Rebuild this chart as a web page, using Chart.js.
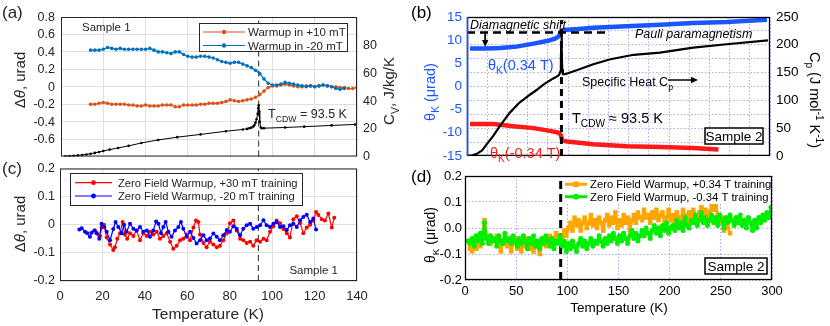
<!DOCTYPE html>
<html>
<head>
<meta charset="utf-8">
<script src="https://cdn.jsdelivr.net/npm/chart.js@4.4.1/dist/chart.umd.min.js"></script>
<style>
  body { margin: 0; background: #fff; }
  #wrap { position: relative; width: 830px; height: 326px; overflow: hidden; }
  .panel { position: absolute; }
</style>
</head>
<body>
<div id="wrap">
  <div class="panel" style="left:0;top:0"><canvas id="chartA" width="420" height="170"></canvas></div>
  <div class="panel" style="left:0;top:156px"><canvas id="chartC" width="420" height="170"></canvas></div>
  <div class="panel" style="left:400px;top:0"><canvas id="chartB" width="430" height="170"></canvas></div>
  <div class="panel" style="left:400px;top:164px"><canvas id="chartD" width="430" height="162"></canvas></div>
</div>
<script>
// ---------- panel (a): Kerr signal of sample 1 + heat capacity ----------
const aT = [14,16,18,20,22,24,26,28,30,32,34,36,38,40,42,44,46,48,50,52,54,56,58,60,62,64,66,68,70,72,
  74,76,78,80,82,84,86,88,90,92,94,96,98,100,102,104,106,108,110,112,114,116,118,120,122,124,126,128,130,132,
  134,136,138,140];
const aOrange = [-0.20,-0.20,-0.19,-0.18,-0.19,-0.20,-0.20,-0.20,-0.20,-0.21,
  -0.21,-0.22,-0.22,-0.21,-0.22,-0.22,-0.22,-0.21,-0.21,-0.21,
  -0.23,-0.23,-0.21,-0.21,-0.21,-0.21,-0.20,-0.20,-0.19,-0.19,
  -0.19,-0.18,-0.17,-0.15,-0.16,-0.17,-0.16,-0.15,-0.14,-0.12,
  -0.09,-0.05,-0.01,0.01,0.01,0.02,0.03,0.02,0.01,0.00,
  0.00,0.01,0.01,0.00,0.01,0.02,0.01,0.00,0.00,-0.01,
  -0.01,-0.02,-0.02,-0.01];
const aBlue = [0.42,0.42,0.42,0.43,0.45,0.44,0.43,0.44,0.43,0.43,
  0.43,0.43,0.43,0.43,0.44,0.42,0.40,0.40,0.39,0.38,
  0.40,0.40,0.37,0.35,0.34,0.34,0.35,0.35,0.34,0.33,
  0.31,0.29,0.28,0.27,0.28,0.28,0.26,0.24,0.22,0.19,
  0.15,0.09,0.04,0.02,0.02,0.03,0.05,0.04,0.03,0.02,
  0.01,0.00,0.01,0.00,0.01,0.02,0.01,0.00,-0.02,-0.03,
  -0.02];
const cvT = [2,4,6,8,10,12,14,16,18,20,23,27,32,38,46,55,66,78,86,88,
  89,90,91,91.5,92,92.5,93,93.3,93.5,93.7,94,94.5,95,96,106,115,128,139];
const cvA = [0.2,0.3,0.5,0.8,1.1,1.5,2.0,2.6,3.3,4.0,5.0,6.2,7.7,9.8,12.0,14.0,16.0,18.3,19.6,20.0,
  20.4,20.9,21.8,22.8,24.5,27,31,35,37,33,25,21,20.5,20.5,21,21.6,22.5,23.2];

// ---------- panel (c): zero field warmup, sample 1 ----------
const cRedT = [16.5,17.3,18.9,19.6,20.7,22.0,23.6,25.1,25.9,27.0,28.3,29.5,30.6,31.7,33.0,34.6,36.1,37.7,39.3,40.9,
  42.4,44.0,45.6,47.1,48.7,50.3,51.9,53.4,55.0,56.6,58.1,59.7,61.3,62.9,64.1,65.2,66.0,67.6,69.1,70.7,
  72.3,73.9,75.4,77.0,78.6,80.1,81.7,83.3,84.9,86.4,88.0,89.6,91.1,92.7,94.3,95.9,97.4,99.0,100.6,102.1,
  103.7,105.3,106.9,108.4,110.0,111.6,113.2,114.7,116.3,117.9,119.4,120.7,121.8,123.4,124.9,126.5,128.1,129.3];
const cRed = [-0.02,-0.03,-0.04,-0.01,0.0,-0.045,-0.07,-0.09,-0.08,-0.05,
  -0.03,0.01,-0.035,-0.05,-0.03,-0.04,-0.02,-0.055,-0.03,-0.04,
  -0.025,-0.035,-0.025,-0.05,-0.04,-0.03,-0.06,-0.085,-0.075,-0.055,
  -0.05,-0.035,-0.055,-0.01,0.015,0.01,-0.035,-0.065,-0.08,-0.06,
  -0.07,-0.08,-0.075,-0.055,-0.03,0.005,0.015,-0.02,-0.05,-0.055,
  -0.065,-0.06,-0.075,-0.055,-0.06,-0.05,-0.055,-0.025,-0.005,0.015,
  0.005,-0.015,-0.03,-0.045,0.02,0.03,0.005,-0.03,-0.01,0.0,
  0.015,0.045,0.035,0.02,0.015,0.04,-0.01,0.025];
const cBlueT = [9.1,10.2,11.8,12.9,14.1,14.9,16.2,17.3,18.5,19.6,20.9,22.0,23.6,25.1,26.2,27.5,29.1,30.2,31.4,33.0,
  34.6,36.1,37.7,39.3,40.9,42.4,44.0,45.3,46.4,47.6,48.7,49.8,51.1,52.6,54.2,55.8,57.0,58.1,59.7,61.3,
  62.9,64.4,66.0,67.6,69.1,70.7,72.3,73.9,75.4,77.0,78.6,80.1,81.7,83.3,84.9,86.4,88.0,89.6,91.1,92.7,
  94.3,95.9,97.4,99.0,100.6,102.1,103.7,105.3,106.9,108.4,110.0,111.6,113.2,114.7,116.3,117.9,119.4,120.7];
const cBlue = [-0.017,-0.012,-0.025,-0.03,-0.043,-0.028,-0.02,-0.03,-0.05,0.004,
  -0.008,-0.025,-0.055,-0.015,0.01,-0.008,-0.03,0.0,-0.025,0.004,
  -0.014,-0.02,-0.008,-0.025,-0.02,-0.043,-0.02,0.012,0.004,-0.03,
  -0.008,0.01,-0.025,-0.043,-0.02,-0.008,0.01,-0.014,-0.043,-0.025,
  -0.047,-0.067,-0.055,-0.037,-0.055,-0.049,-0.031,-0.043,-0.055,-0.037,
  -0.019,-0.025,-0.005,-0.014,-0.037,-0.014,-0.002,0.004,-0.014,-0.008,
  -0.002,0.016,-0.002,-0.008,0.004,0.01,-0.008,-0.005,-0.019,-0.002,
  0.004,-0.008,0.016,0.028,0.036,0.01,0.022,-0.017];

// ---------- panel (b): sample 2 in field + Cp ----------
const bBlueT = [3,10,20,33,49,66,79,87,90,91.5,92.5,93.5,96,110,125,158,191,224,257,297];
const bBlue = [8.2,8.2,8.2,8.3,8.6,9.25,9.8,10.3,10.7,11.0,11.6,12.0,12.2,12.4,12.7,13.0,13.3,13.7,13.9,14.4];
const bRedT = [3,26,46,66,82,89,91.5,93,94,95,99,125,158,191,224,249];
const bRed = [-8.1,-8.1,-8.6,-9.0,-9.6,-9.9,-10.1,-10.6,-11.4,-11.7,-11.9,-12.5,-12.9,-13.1,-13.3,-13.6];
const cpT = [0,5,10,15,20,26,33,42,52,63,70,77,85,90,91.5,92.5,93,93.3,93.6,93.9,94.3,95,97,110,125,142,165,191,224,257,298];
const cpB = [0,1,4,10,22,36,55,77,96,111,120,130,139,144,147,152,170,205,216,190,155,147,147,155,165,174,182,186,195,201,208];
const diamLevel = 11.65, diamEndT = 139, diamArrowT = 18, diamArrowTip = 8.5;

// ---------- panel (d): zero field warmup, sample 2 ----------
const dT = [3,5,7,9,11,13,15,17,19,21,23,25,27,29,31,33,35,37,39,41,43,45,47,49,51,53,55,57,59,61,
  63,65,67,69,71,73,75,77,79,81,83,85,87,89,91,93,95,97,99,101,103,105,107,109,111,113,115,117,119,121,
  123,125,127,129,131,133,135,137,139,141,143,145,147,149,151,153,155,157,159,161,163,165,167,169,171,173,175,177,179,181,
  183,185,187,189,191,193,195,197,199,201,203,205,207,209,211,213,215,217,219,221,223,225,227,229,231,233,235,237,239,241,
  243,245,247,249,251,253,255,257,259,261,263,265,267,269,271,273,275,277,279,281,283,285,287,289,291,293,295,297,299];
const dOrange = [-0.05,-0.08,-0.09,-0.06,-0.08,-0.05,-0.07,-0.02,0.03,-0.04,
  -0.03,-0.06,-0.04,-0.05,-0.03,-0.06,-0.09,-0.05,-0.04,-0.07,
  -0.05,-0.09,-0.06,-0.04,-0.08,-0.06,-0.09,-0.05,-0.07,-0.04,
  -0.08,-0.06,-0.09,-0.05,-0.07,-0.10,-0.06,-0.04,-0.07,-0.05,
  -0.03,-0.06,-0.04,-0.02,-0.04,-0.03,-0.05,-0.01,-0.03,0.0,
  0.02,-0.01,0.04,0.01,0.03,-0.01,0.02,0.04,0.0,0.02,
  0.05,0.01,0.03,0.0,0.04,0.02,-0.01,0.03,0.05,0.01,
  0.04,0.02,0.06,0.0,0.03,0.01,0.05,0.02,0.04,-0.01,
  0.03,0.05,0.02,0.06,0.04,0.03,0.07,0.04,0.05,0.02,
  0.06,0.04,0.07,0.03,0.05,0.06,0.02,0.04,0.07,0.03,
  0.05,0.02,0.06,0.04,0.03,0.07,0.05,0.02,0.06,0.04,
  0.07,0.05,0.03,0.06,0.08,0.05,0.07,0.04,0.06,0.09,
  0.07,0.09,0.05,0.02,0.04,-0.01,0.02,0.0,-0.02];
const dGreen = [-0.05,-0.06,-0.04,-0.07,-0.03,-0.05,-0.02,-0.06,0.02,-0.04,
  -0.06,-0.03,-0.05,-0.04,-0.07,-0.03,-0.05,-0.06,-0.02,-0.05,
  -0.04,-0.06,-0.03,-0.05,-0.07,-0.04,-0.06,-0.03,-0.05,-0.08,
  -0.04,-0.06,-0.03,-0.07,-0.05,-0.08,-0.04,-0.06,-0.03,-0.05,
  -0.07,-0.04,-0.08,-0.05,-0.06,-0.03,-0.07,-0.05,-0.09,-0.06,
  -0.08,-0.05,-0.07,-0.09,-0.06,-0.04,-0.07,-0.05,-0.08,-0.06,
  -0.04,-0.07,-0.05,-0.06,-0.03,-0.05,-0.07,-0.04,-0.06,-0.03,
  -0.05,-0.02,-0.04,-0.06,-0.03,-0.05,-0.02,-0.04,-0.06,-0.03,
  -0.01,-0.04,-0.02,-0.05,-0.03,-0.01,-0.03,0.0,-0.02,-0.04,
  -0.01,0.01,-0.02,0.0,-0.03,0.01,-0.01,0.02,-0.02,0.0,
  0.01,-0.01,0.03,0.0,0.02,-0.01,0.04,0.01,0.0,0.03,
  0.02,0.05,0.01,0.03,0.06,0.02,0.04,0.01,0.03,0.05,
  0.02,0.04,0.01,0.05,0.03,0.0,0.04,0.02,0.05,0.03,
  0.01,0.04,0.02,0.05,0.01,0.03,0.0,0.04,0.02,-0.01,
  0.03,0.0,0.04,0.02,0.05,0.03,0.06,0.04,0.08];

const tCDW = 93.5;

// tick lists
const xTicksAC = [0,20,40,60,80,100,120,140];
const aLeftTicks = [-0.8,-0.6,-0.4,-0.2,0,0.2,0.4,0.6,0.8];
const aRightTicks = [0,20,40,60,80];
const cLeftTicks = [-0.2,-0.1,0,0.1,0.2];
const bxTicks = [0,20,40,60,80,100,120,140,160,180,200,220,240,260,280,300];
const bLeftTicks = [-15,-10,-5,0,5,10,15];
const bRightTicks = [0,25,50,75,100,125,150,175,200,225,250];
const dxTicks = [0,50,100,150,200,250,300];
const dLeftTicks = [-0.2,-0.1,0,0.1,0.2];

const FONT = '"Liberation Sans", Arial, Helvetica, sans-serif';
const GREY = '#262626';
const GRID_AC = '#dfdfdf';
const GRID_BD = 'rgba(110,110,255,0.6)';
const BLUE_B = '#1a55ff';
const RED_B = '#ff1a1a';

function pts(t, v) { return v.map((y, i) => ({ x: t[i], y: y })); }
function ticksOf(arr) { return arr.map(v => ({ value: v })); }
function fmtA(v) { return Math.abs(v) < 1e-9 ? '0' : v.toFixed(1); }

function fontFor(st, size) {
  const small = st === 'sub' || st === 'sup';
  return (st === 'i' ? 'italic ' : '') + (small ? size * 0.7 : size) + 'px ' + FONT;
}

function drawRich(ctx, parts, x, y, size, align, color) {
  let w = 0;
  parts.forEach(p => { ctx.font = fontFor(p[1], size); w += ctx.measureText(p[0]).width; });
  let cx = align === 'center' ? x - w / 2 : align === 'right' ? x - w : x;
  ctx.fillStyle = color;
  ctx.textAlign = 'left';
  ctx.textBaseline = 'alphabetic';
  parts.forEach(p => {
    ctx.font = fontFor(p[1], size);
    const dy = p[1] === 'sub' ? size * 0.3 : p[1] === 'sup' ? -size * 0.4 : 0;
    ctx.fillText(p[0], cx, y + dy);
    cx += ctx.measureText(p[0]).width;
  });
}

function drawArrow(ctx, x1, y1, x2, y2, color, lw, head) {
  const ang = Math.atan2(y2 - y1, x2 - x1);
  ctx.strokeStyle = color; ctx.fillStyle = color; ctx.lineWidth = lw; ctx.setLineDash([]);
  ctx.beginPath();
  ctx.moveTo(x1, y1);
  ctx.lineTo(x2 - Math.cos(ang) * head * 0.8, y2 - Math.sin(ang) * head * 0.8);
  ctx.stroke();
  ctx.beginPath();
  ctx.moveTo(x2, y2);
  ctx.lineTo(x2 - head * Math.cos(ang) + head * 0.45 * Math.sin(ang), y2 - head * Math.sin(ang) - head * 0.45 * Math.cos(ang));
  ctx.lineTo(x2 - head * Math.cos(ang) - head * 0.45 * Math.sin(ang), y2 - head * Math.sin(ang) + head * 0.45 * Math.cos(ang));
  ctx.closePath();
  ctx.fill();
}

function drawLegend(chart, L) {
  const ctx = chart.ctx;
  ctx.fillStyle = '#fff';
  ctx.fillRect(L.x, L.y, L.w, L.h);
  if (L.border) {
    ctx.strokeStyle = L.border; ctx.lineWidth = 1; ctx.setLineDash([]);
    ctx.strokeRect(L.x + 0.5, L.y + 0.5, L.w, L.h);
  }
  L.rows.forEach((ry, i) => {
    const ds = chart.data.datasets[L.sets[i]];
    ctx.strokeStyle = ds.borderColor; ctx.lineWidth = ds.borderWidth; ctx.setLineDash([]);
    ctx.beginPath(); ctx.moveTo(L.x0, ry); ctx.lineTo(L.x1, ry); ctx.stroke();
    const mx = (L.x0 + L.x1) / 2, r = ds.pointRadius;
    ctx.fillStyle = ds.borderColor;
    ctx.beginPath();
    if (ds.pointStyle === 'rect') {
      const h = r * Math.SQRT1_2 + 0.5;
      ctx.rect(mx - h, ry - h, 2 * h, 2 * h);
    } else {
      ctx.arc(mx, ry, r + 0.4, 0, 2 * Math.PI);
    }
    ctx.fill();
    drawRich(ctx, [[ds.label, 'n']], L.tx, ry + L.s * 0.36, L.s, 'left', L.c);
  });
}

const deco = {
  id: 'deco',
  afterDraw(chart, args, o) {
    const ctx = chart.ctx, a = chart.chartArea;
    ctx.save();
    if (o.legend) drawLegend(chart, o.legend);
    ctx.setLineDash([]);
    ctx.strokeStyle = o.boxColor || GREY;
    ctx.lineWidth = o.boxWidth || 1;
    ctx.strokeRect(a.left + 0.5, a.top + 0.5, a.right - a.left - 1, a.bottom - a.top - 1);
    if (o.leftColor) {
      ctx.strokeStyle = o.leftColor; ctx.lineWidth = 1.6;
      ctx.beginPath(); ctx.moveTo(a.left + 0.5, a.top); ctx.lineTo(a.left + 0.5, a.bottom); ctx.stroke();
    }
    (o.arrows || []).forEach(ar => {
      if (ar.data) {
        const xs = chart.scales.x, ys = chart.scales[ar.axis];
        drawArrow(ctx, xs.getPixelForValue(ar.x1), ys.getPixelForValue(ar.y1),
          xs.getPixelForValue(ar.x2), ys.getPixelForValue(ar.y2), ar.c, ar.lw, ar.head);
      } else {
        drawArrow(ctx, ar.x1, ar.y1, ar.x2, ar.y2, ar.c, ar.lw, ar.head);
      }
    });
    (o.frames || []).forEach(f => {
      ctx.fillStyle = '#fff'; ctx.fillRect(f.x, f.y, f.w, f.h);
      ctx.strokeStyle = '#000'; ctx.lineWidth = 1.5;
      ctx.strokeRect(f.x, f.y, f.w, f.h);
      drawRich(ctx, [[f.t, 'n']], f.x + f.w / 2, f.y + f.h / 2 + f.s * 0.36, f.s, 'center', '#000');
    });
    (o.texts || []).forEach(t => {
      if (t.r) {
        ctx.save();
        ctx.translate(t.x, t.y);
        ctx.rotate(t.r * Math.PI / 180);
        drawRich(ctx, t.p, 0, t.s * 0.35, t.s, 'center', t.c);
        ctx.restore();
      } else {
        drawRich(ctx, t.p, t.x, t.y, t.s, t.a || 'left', t.c);
      }
    });
    ctx.restore();
  }
};
Chart.register(deco);

const common = {
  responsive: false,
  animation: false,
  events: [],
  elements: { line: { tension: 0, borderJoinStyle: 'round' } },
};

function tickFont(size) { return { family: FONT, size: size }; }

// ---------- chart (a) ----------
const chartA = new Chart(document.getElementById('chartA'), {
  type: 'line',
  data: {
    datasets: [
      { label: 'Warmup in +10 mT', data: pts(aT, aOrange), borderColor: '#D95319', backgroundColor: '#D95319',
        borderWidth: 1.2, pointRadius: 1.8, pointBorderWidth: 0, yAxisID: 'y', order: 1 },
      { label: 'Warmup in -20 mT', data: pts(aT, aBlue), borderColor: '#0072BD', backgroundColor: '#0072BD',
        borderWidth: 1.2, pointRadius: 1.8, pointBorderWidth: 0, yAxisID: 'y', order: 0 },
      { label: 'Cv', data: pts(cvT, cvA), borderColor: '#000', backgroundColor: '#000',
        borderWidth: 1, pointRadius: 1.3, pointBorderWidth: 0, yAxisID: 'y2', order: 2 },
      { label: 'TCDW', data: pts([tCDW, tCDW], [-0.8, 0.8]), borderColor: GREY, borderWidth: 1,
        borderDash: [6, 4], pointRadius: 0, yAxisID: 'y', order: 3 }
    ]
  },
  options: {
    ...common,
    layout: { padding: { left: 0, right: 0, top: 17, bottom: 10 } },
    plugins: {
      legend: { display: false }, tooltip: { enabled: false },
      deco: {
        legend: { x: 199, y: 23, w: 148, h: 28, border: GREY, rows: [32, 45.5], sets: [0, 1],
          x0: 203, x1: 245, tx: 248, s: 11.5, c: GREY },
        texts: [
          { p: [['(a)', 'n']], x: 2, y: 18, s: 17, c: GREY },
          { p: [['Sample 1', 'n']], x: 82, y: 31, s: 11.5, c: GREY },
          { p: [['T', 'n'], ['CDW', 'sub'], [' = 93.5 K', 'n']], x: 268, y: 118, s: 12.5, c: GREY },
          { p: [['Δ', 'n'], ['θ', 'i'], [', urad', 'n']], x: 20, y: 80, s: 15, c: GREY, r: -90 },
          { p: [['C', 'n'], ['V', 'sub'], [', J/kg/K', 'n']], x: 389, y: 91, s: 15, c: GREY, r: -90 }
        ]
      }
    },
    scales: {
      x: { type: 'linear', min: 0, max: 140,
        afterBuildTicks: s => { s.ticks = ticksOf(xTicksAC); },
        ticks: { display: false, autoSkip: false },
        grid: { color: GRID_AC, drawTicks: false }, border: { display: false },
        afterFit: s => { s.height = 0; } },
      y: { position: 'left', min: -0.8, max: 0.8,
        afterBuildTicks: s => { s.ticks = ticksOf(aLeftTicks); },
        ticks: { display: false, autoSkip: false },
        grid: { color: GRID_AC, drawTicks: false }, border: { display: false },
        afterFit: s => { s.width = 61; } },
      y2: { position: 'right', min: 0, max: 101,
        afterBuildTicks: s => { s.ticks = ticksOf(aRightTicks); },
        ticks: { font: tickFont(12.5), color: GREY, padding: 6, autoSkip: false },
        grid: { display: false, drawTicks: false }, border: { display: false },
        afterFit: s => { s.width = 63; } }
    }
  }
});

// left tick labels of (a) placed from the chart's own y scale, kept on top of everything
(function () {
  const ys = chartA.scales.y, area = chartA.chartArea;
  const box = document.createElement('div');
  box.style.cssText = 'position:absolute;left:0;top:0;width:' + (area.left - 6) + 'px;height:170px;z-index:10;pointer-events:none;';
  aLeftTicks.forEach(v => {
    if (v < -0.7) return;
    const d = document.createElement('div');
    d.textContent = fmtA(v);
    d.style.cssText = 'position:absolute;right:0;top:' + (ys.getPixelForValue(v) - 8) +
      'px;font-size:12.5px;font-family:' + FONT + ';line-height:16px;color:' + GREY + ';white-space:nowrap;';
    box.appendChild(d);
  });
  document.getElementById('wrap').appendChild(box);
})();

// ---------- chart (c) ----------
new Chart(document.getElementById('chartC'), {
  type: 'line',
  data: {
    datasets: [
      { label: 'Zero Field Warmup, +30 mT training', data: pts(cRedT, cRed), borderColor: '#ff0000',
        backgroundColor: '#ff0000', borderWidth: 1.2, pointRadius: 2, pointBorderWidth: 0, order: 1 },
      { label: 'Zero Field Warmup, -20 mT training', data: pts(cBlueT, cBlue), borderColor: '#0000ff',
        backgroundColor: '#0000ff', borderWidth: 1.2, pointRadius: 2, pointBorderWidth: 0, order: 0 },
      { label: 'TCDW', data: pts([tCDW, tCDW], [-0.2, 0.2]), borderColor: GREY, borderWidth: 1,
        borderDash: [6, 4], pointRadius: 0, order: 3 }
    ]
  },
  options: {
    ...common,
    layout: { padding: { left: 0, right: 63, top: 12, bottom: 0 } },
    plugins: {
      legend: { display: false }, tooltip: { enabled: false },
      deco: {
        legend: { x: 70, y: 17, w: 232, h: 32, border: GREY, rows: [26.7, 40], sets: [0, 1],
          x0: 75, x1: 112, tx: 118, s: 11.2, c: GREY },
        texts: [
          { p: [['(c)', 'n']], x: 2, y: 18, s: 17, c: GREY },
          { p: [['Δ', 'n'], ['θ', 'i'], [', urad', 'n']], x: 20, y: 68, s: 15, c: GREY, r: -90 },
          { p: [['Temperature (K)', 'n']], x: 208, y: 163, s: 15.5, c: GREY, a: 'center' },
          { p: [['Sample 1', 'n']], x: 338, y: 118, s: 11.5, c: GREY, a: 'right' }
        ]
      }
    },
    scales: {
      x: { type: 'linear', min: 0, max: 140,
        afterBuildTicks: s => { s.ticks = ticksOf(xTicksAC); },
        ticks: { font: tickFont(13), color: GREY, padding: 8, autoSkip: false, maxRotation: 0 },
        grid: { color: GRID_AC, drawTicks: false }, border: { display: false },
        afterFit: s => { s.height = 45; } },
      y: { position: 'left', min: -0.2, max: 0.2,
        afterBuildTicks: s => { s.ticks = ticksOf(cLeftTicks); },
        ticks: { font: tickFont(12.5), color: GREY, padding: 5, autoSkip: false,
          callback: v => fmtA(v) },
        grid: { color: GRID_AC, drawTicks: false }, border: { display: false },
        afterFit: s => { s.width = 60; } }
    }
  }
});

// ---------- chart (b) ----------
new Chart(document.getElementById('chartB'), {
  type: 'line',
  data: {
    datasets: [
      { label: 'theta 0.34 T', data: pts(bBlueT, bBlue), borderColor: BLUE_B, borderWidth: 4.5,
        pointRadius: 0, yAxisID: 'y', order: 4 },
      { label: 'theta -0.34 T', data: pts(bRedT, bRed), borderColor: RED_B, borderWidth: 4.5,
        pointRadius: 0, yAxisID: 'y', order: 3 },
      { label: 'Cp', data: pts(cpT, cpB), borderColor: '#000', borderWidth: 2.2,
        pointRadius: 0, yAxisID: 'y2', order: 2 },
      { label: 'TCDW', data: pts([tCDW, tCDW], [-15, 14.3]), borderColor: '#000', borderWidth: 3,
        borderDash: [7, 5], pointRadius: 0, yAxisID: 'y', order: 1 },
      { label: 'diamagnetic', data: pts([0, diamEndT], [diamLevel, diamLevel]), borderColor: '#000',
        borderWidth: 2.5, borderDash: [8, 5], pointRadius: 0, yAxisID: 'y', order: 0 }
    ]
  },
  options: {
    ...common,
    layout: { padding: { left: 0, right: 0, top: 17, bottom: 7 } },
    plugins: {
      legend: { display: false }, tooltip: { enabled: false },
      deco: {
        boxColor: '#000', boxWidth: 1.3, leftColor: BLUE_B,
        arrows: [
          { data: true, axis: 'y', x1: diamArrowT, y1: diamLevel, x2: diamArrowT, y2: diamArrowTip, c: '#000', lw: 1.8, head: 7 },
          { x1: 268, y1: 80, x2: 298, y2: 80, c: '#000', lw: 1.5, head: 7 }
        ],
        frames: [ { x: 305, y: 128, w: 58, h: 16, t: 'Sample 2', s: 13.5 } ],
        texts: [
          { p: [['(b)', 'n']], x: 11, y: 18, s: 17, c: '#000' },
          { p: [['θ', 'n'], ['K', 'sub'], [' (μrad)', 'n']], x: 30, y: 92, s: 14.5, c: BLUE_B, r: -90 },
          { p: [['C', 'n'], ['p', 'sub'], [' (J mol', 'n'], ['-1', 'sup'], [' K', 'n'], ['-1', 'sup'], [')', 'n']],
            x: 415, y: 100, s: 14.5, c: '#000', r: 90 },
          { p: [['Diamagnetic shift', 'i']], x: 70, y: 29, s: 12.5, c: '#000' },
          { p: [['Pauli paramagnetism', 'i']], x: 235, y: 37.5, s: 12.5, c: '#000' },
          { p: [['θ', 'n'], ['K', 'sub'], ['(0.34 T)', 'n']], x: 88, y: 70, s: 14.5, c: BLUE_B },
          { p: [['θ', 'n'], ['K', 'sub'], ['(-0.34 T)', 'n']], x: 90, y: 158, s: 14.5, c: RED_B },
          { p: [['Specific Heat C', 'n'], ['p', 'sub']], x: 182, y: 86, s: 12.5, c: '#000' },
          { p: [['T', 'n'], ['CDW', 'sub'], [' ≈ 93.5 K', 'n']], x: 172, y: 123, s: 14.5, c: '#000' }
        ]
      }
    },
    scales: {
      x: { type: 'linear', min: 0, max: 300,
        afterBuildTicks: s => { s.ticks = ticksOf(bxTicks); },
        ticks: { display: false, autoSkip: false },
        grid: { color: GRID_BD, drawTicks: false }, border: { display: false, dash: [1.5, 2] },
        afterFit: s => { s.height = 0; } },
      y: { position: 'left', min: -15, max: 15,
        afterBuildTicks: s => { s.ticks = ticksOf(bLeftTicks); },
        ticks: { font: tickFont(13.5), color: BLUE_B, padding: 5, autoSkip: false },
        grid: { display: false, drawTicks: false }, border: { display: false },
        afterFit: s => { s.width = 67; } },
      y2: { position: 'right', min: 0, max: 250,
        afterBuildTicks: s => { s.ticks = ticksOf(bRightTicks); },
        ticks: { font: tickFont(13.5), color: '#000', padding: 6, autoSkip: false,
          callback: v => v % 50 === 0 ? String(v) : '' },
        grid: { color: GRID_BD, drawTicks: false }, border: { display: false, dash: [1.5, 2] },
        afterFit: s => { s.width = 60; } }
    }
  }
});

// ---------- chart (d) ----------
new Chart(document.getElementById('chartD'), {
  type: 'line',
  data: {
    datasets: [
      { label: 'Zero Field Warmup, +0.34 T training', data: pts(dT, dOrange), borderColor: '#ffa500',
        backgroundColor: '#ffa500', borderWidth: 3, pointStyle: 'rect', pointRadius: 3.2, pointBorderWidth: 0, order: 1 },
      { label: 'Zero Field Warmup, -0.34 T training', data: pts(dT, dGreen), borderColor: '#00ee00',
        backgroundColor: '#00ee00', borderWidth: 3, pointStyle: 'circle', pointRadius: 2.5, pointBorderWidth: 0, order: 0 },
      { label: 'TCDW', data: pts([tCDW, tCDW], [-0.2, 0.2]), borderColor: '#000', borderWidth: 3,
        borderDash: [8, 5], pointRadius: 0, order: 3 }
    ]
  },
  options: {
    ...common,
    layout: { padding: { left: 0, right: 58, top: 12, bottom: 0 } },
    plugins: {
      legend: { display: false }, tooltip: { enabled: false },
      deco: {
        boxColor: '#000', boxWidth: 1.3,
        legend: { x: 163, y: 13, w: 208, h: 27, border: null, rows: [20.3, 32.7], sets: [0, 1],
          x0: 165, x1: 187, tx: 190, s: 11.3, c: '#000' },
        frames: [ { x: 305, y: 94, w: 62, h: 16, t: 'Sample 2', s: 13.5 } ],
        texts: [
          { p: [['(d)', 'n']], x: 11, y: 18, s: 17, c: '#000' },
          { p: [['θ', 'n'], ['K', 'sub'], [' (μrad)', 'n']], x: 30, y: 71, s: 14, c: '#000', r: -90 },
          { p: [['Temperature (K)', 'n']], x: 219, y: 147.5, s: 13.5, c: '#000', a: 'center' }
        ]
      }
    },
    scales: {
      x: { type: 'linear', min: 0, max: 300,
        afterBuildTicks: s => { s.ticks = ticksOf(dxTicks); },
        ticks: { font: tickFont(13), color: '#000', padding: 4, autoSkip: false, maxRotation: 0 },
        grid: { color: GRID_BD, drawTicks: false }, border: { display: false, dash: [1.5, 2] },
        afterFit: s => { s.height = 46; } },
      y: { position: 'left', min: -0.2, max: 0.2,
        afterBuildTicks: s => { s.ticks = ticksOf(dLeftTicks); },
        ticks: { font: tickFont(13), color: '#000', padding: 3, autoSkip: false, callback: v => v.toFixed(1) },
        grid: { color: GRID_BD, drawTicks: false }, border: { display: false, dash: [1.5, 2] },
        afterFit: s => { s.width = 65; } }
    }
  }
});
</script>
</body>
</html>
